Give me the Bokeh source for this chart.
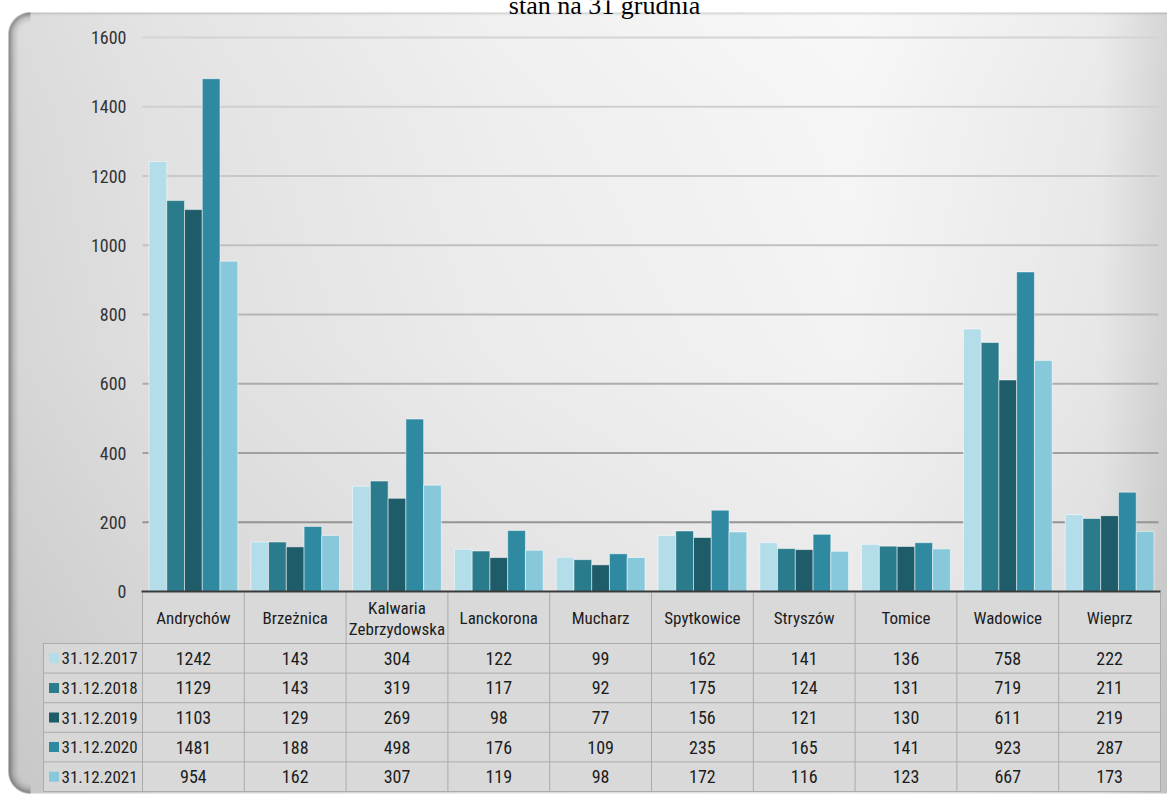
import numpy as np
from bokeh.plotting import figure
from bokeh.models import Range1d, ColumnDataSource
from bokeh.core.properties import value
from bokeh.embed import file_html
from bokeh.resources import INLINE

# ---------------------------------------------------------------- data
TITLE = "stan na 31 grudnia"
categories = ["Andrychów", "Brzeżnica", "Kalwaria\nZebrzydowska", "Lanckorona",
              "Mucharz", "Spytkowice", "Stryszów", "Tomice", "Wadowice", "Wieprz"]
series_labels = ["31.12.2017", "31.12.2018", "31.12.2019", "31.12.2020", "31.12.2021"]
v2017 = [1242, 143, 304, 122, 99, 162, 141, 136, 758, 222]
v2018 = [1129, 143, 319, 117, 92, 175, 124, 131, 719, 211]
v2019 = [1103, 129, 269, 98, 77, 156, 121, 130, 611, 219]
v2020 = [1481, 188, 498, 176, 109, 235, 165, 141, 923, 287]
v2021 = [954, 162, 307, 119, 98, 172, 116, 123, 667, 173]
y_ticks = [0, 200, 400, 600, 800, 1000, 1200, 1400, 1600]

series_values = [v2017, v2018, v2019, v2020, v2021]
series_colors = ["#b3dde9", "#2a7b8c", "#1f5c69", "#2f8aa1", "#87c8da"]

# ---------------------------------------------------------------- layout
W, H = 1167, 794
COL0_PX, COL_PX = 142.0, 101.8          # left edge of first column, column width
ZERO_PX, PX_PER_VAL = 591.0, 554.0 / 1600.0

def ux(px):
    return (px - COL0_PX) / COL_PX

def vy(py):
    return (ZERO_PX - py) / PX_PER_VAL

NARROW = value("Roboto Condensed")
TEXT_COLOR = "#1c1c1c"

p = figure(width=W, height=H,
           x_range=Range1d(ux(0), ux(W)), y_range=Range1d(vy(H), vy(0)),
           output_backend="svg", toolbar_location=None,
           x_axis_location=None, y_axis_location=None,
           min_border=0, outline_line_color=None,
           background_fill_color="white", border_fill_color="white")
p.grid.grid_line_color = None

# ---------------------------------------------------------------- panel background
yy, xx = np.mgrid[0:H, 0:W].astype(float) + 0.5
shade = np.interp(xx, [8, 20, 150, 500, 850, 1100, 1167],
                  [0.82, 0.845, 0.875, 0.925, 0.955, 0.905, 0.82])
shade += np.interp(yy, [12, 120, 350, 600, 794], [0.02, 0.01, 0.0, -0.035, -0.06])

R = 22.0
LEFT, TOP, BOTTOM = 8.0, 12.0, 793.0
cx, cy_top, cy_bot = LEFT + R, TOP + R, BOTTOM - R
d_side = xx - LEFT
in_tl = (xx < cx) & (yy < cy_top)
in_bl = (xx < cx) & (yy > cy_bot)
d_side = np.where(in_tl, R - np.hypot(xx - cx, yy - cy_top), d_side)
d_side = np.where(in_bl, R - np.hypot(xx - cx, yy - cy_bot), d_side)
d_all = np.minimum(np.minimum(d_side, yy - TOP), BOTTOM - yy)
alpha = np.clip(d_all + 0.5, 0, 1)

shade *= np.interp(d_side, [0, 2, 5, 10], [0.62, 0.72, 0.88, 1.0])
shade *= np.interp(yy - TOP, [0, 1.5, 3], [0.82, 0.93, 1.0])
shade = np.clip(shade, 0, 1)

g = shade * 255 * alpha + 255 * (1 - alpha)
rgba = np.zeros((H, W, 4), dtype=np.uint8)
rgba[..., 0] = g
rgba[..., 1] = g
rgba[..., 2] = g
rgba[..., 3] = 255
img = np.flipud(rgba).copy().view(dtype=np.uint32).reshape((H, W))
p.image_rgba(image=[img], x=ux(0), y=vy(H), dw=ux(W) - ux(0), dh=vy(0) - vy(H))

# ---------------------------------------------------------------- title (partly above the page)
p.text(x=[ux(604)], y=[vy(5)], text=[TITLE], text_align="center",
       text_baseline="alphabetic", text_font=value("Liberation Serif"),
       text_font_size=value("26px"), text_color="#000000")

# ---------------------------------------------------------------- gridlines and y labels
grid_vals = y_ticks[1:]
grid_cols = ["#949494", "#a0a0a0", "#acacac", "#b6b6b6", "#c0c0c0",
             "#c8c8c8", "#cfcfcf", "#d4d4d4"]
p.segment(x0=[ux(142)] * len(grid_vals), x1=[ux(1158)] * len(grid_vals),
          y0=grid_vals, y1=grid_vals, line_color=grid_cols, line_width=2)

p.text(x=[ux(126)] * len(y_ticks), y=y_ticks, text=[str(t) for t in y_ticks],
       text_align="right", text_baseline="middle", text_font=NARROW,
       text_font_size=value("18px"), text_color="#333333")

# ---------------------------------------------------------------- bars
BAR_W = 17.75 / COL_PX
centers = np.arange(len(categories)) + 0.5
for j, (label, vals, color) in enumerate(zip(series_labels, series_values, series_colors)):
    src = ColumnDataSource(dict(x=centers + (j - 2) * BAR_W, top=vals))
    p.vbar(x="x", top="top", bottom=0, width=BAR_W, source=src,
           fill_color=color, line_color="white", line_alpha=0.5, line_width=1)

# ---------------------------------------------------------------- data table
HEAD_TOP, HEAD_BOT, ROW_H = 592.0, 643.0, 29.6
row_edges = [HEAD_BOT + ROW_H * k for k in range(len(series_labels) + 1)]
TABLE_RIGHT = COL0_PX + COL_PX * len(categories)
LEG_LEFT = 43.0

p.quad(left=[ux(COL0_PX)], right=[ux(TABLE_RIGHT)], top=[vy(HEAD_TOP)],
       bottom=[vy(row_edges[-1])], fill_color="#d9d9d9", line_color=None)
p.quad(left=[ux(LEG_LEFT)], right=[ux(COL0_PX)], top=[vy(HEAD_BOT)],
       bottom=[vy(row_edges[-1])], fill_color="#d7d7d7", line_color=None)

# horizontal rules
p.segment(x0=[ux(LEG_LEFT)] * len(row_edges), x1=[ux(TABLE_RIGHT)] * len(row_edges),
          y0=[vy(r) for r in row_edges], y1=[vy(r) for r in row_edges],
          line_color="#ababab", line_width=1)
# vertical rules
col_edges = [COL0_PX + COL_PX * i for i in range(len(categories) + 1)]
p.segment(x0=[ux(c) for c in col_edges], x1=[ux(c) for c in col_edges],
          y0=[vy(HEAD_TOP)] * len(col_edges), y1=[vy(row_edges[-1])] * len(col_edges),
          line_color="#ababab", line_width=1)
p.segment(x0=[ux(LEG_LEFT)], x1=[ux(LEG_LEFT)], y0=[vy(HEAD_BOT)], y1=[vy(row_edges[-1])],
          line_color="#ababab", line_width=1)

# category axis line
p.segment(x0=[ux(141)], x1=[ux(TABLE_RIGHT)], y0=[0], y1=[0],
          line_color="#3a3a3a", line_width=2)

# header names
p.text(x=list(centers), y=[vy((HEAD_TOP + HEAD_BOT) / 2)] * len(categories),
       text=categories, text_align="center", text_baseline="middle",
       text_font=NARROW, text_font_size=value("17px"), text_color=TEXT_COLOR,
       text_line_height=1.05)

# values and legend entries
for k, (label, vals, color) in enumerate(zip(series_labels, series_values, series_colors)):
    yc = vy(row_edges[k] + ROW_H / 2)
    p.text(x=list(centers), y=[yc] * len(vals), text=[str(v) for v in vals],
           text_align="center", text_baseline="middle", text_font=NARROW,
           text_font_size=value("18px"), text_color=TEXT_COLOR)
    p.scatter(x=[ux(53.5)], y=[yc], marker="square", size=10,
              fill_color=color, line_color=None)
    p.text(x=[ux(61)], y=[yc], text=[label], text_align="left",
           text_baseline="middle", text_font=NARROW,
           text_font_size=value("17px"), text_color=TEXT_COLOR)

open("out.html", "w").write(file_html(p, INLINE))
